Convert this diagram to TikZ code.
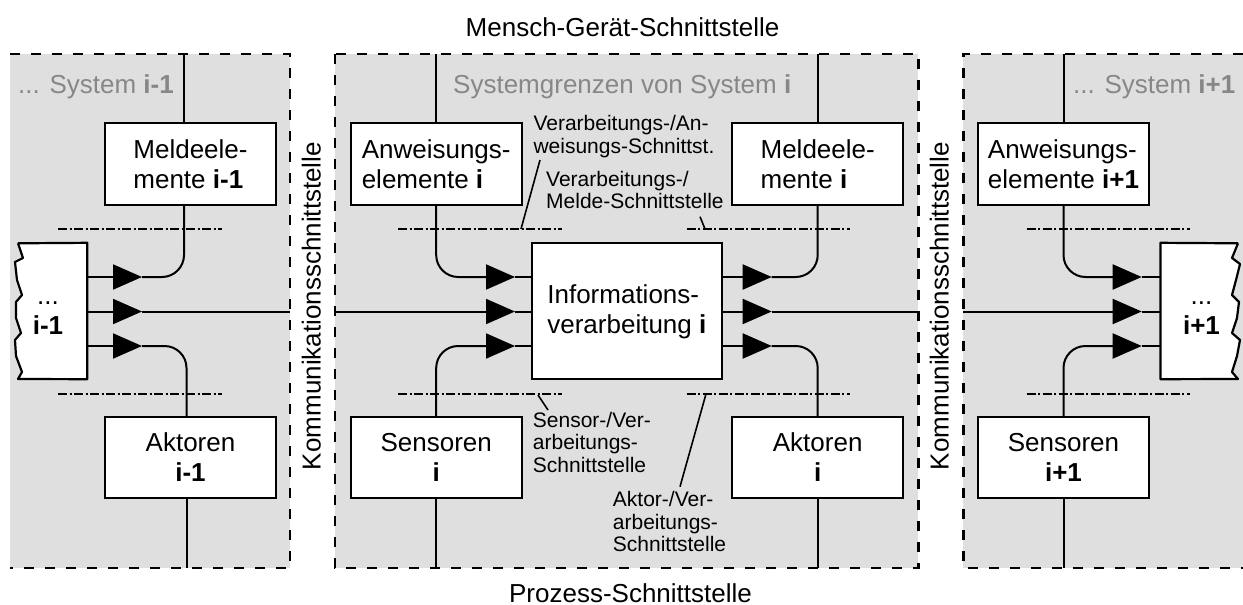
\documentclass[tikz,border=0pt]{standalone}
\usepackage{fontspec}
\setmainfont{Liberation Sans}
\usetikzlibrary{arrows.meta}
\definecolor{sysfill}{RGB}{223,223,223}
\definecolor{systext}{RGB}{135,135,135}
\begin{document}
\begin{tikzpicture}[x=1pt,y=-1pt,
  every node/.style={inner sep=0pt},
  big/.style={font=\fontsize{26}{30}\selectfont},
  blk/.style={big, draw, line width=2.2pt, fill=white, minimum width=171pt, minimum height=82pt},
  conn/.style={line width=2pt},
  curved/.style={conn, rounded corners=22pt},
  arrowtip/.style={conn, -{Triangle[length=29pt,width=25pt]}},
  border/.style={line width=2.4pt, dash pattern=on 10pt off 11pt},
  iface/.style={line width=1.6pt, dash pattern=on 9pt off 2.5pt on 2pt off 2.5pt},
  leader/.style={line width=1.6pt},
  lbl/.style={font=\fontsize{21}{22.5}\selectfont, align=left, anchor=north west},
  sysname/.style={big, text=systext, anchor=base west},
]
\useasboundingbox (0,0) rectangle (1243,605);
% system areas
\fill[sysfill] (10,54) rectangle (290,568);
\fill[sysfill] (335,54) rectangle (918.3,568);
\fill[sysfill] (963.3,54) rectangle (1243,568);
\draw[border] (10,54) -- (290,54) -- (290,568) -- (10,568);
\draw[border] (335,54) rectangle (918.3,568);
\draw[border] (1243,54) -- (963.3,54) -- (963.3,568) -- (1243,568);

% titles
\node[big, anchor=base] (mg) at (622.5,36) {Mensch-Gerät-Schnittstelle};
\node[big, anchor=base] (ps) at (630.5,602) {Prozess-Schnittstelle};
\node[big, rotate=90, anchor=base] (k1) at (320.5,306) {Kommunikationsschnittstelle};
\node[big, rotate=90, anchor=base] (k2) at (948.5,306) {Kommunikationsschnittstelle};
\node[sysname] (s1) at (18,93.3) {... System \textbf{i-1}};
\node[sysname] (s2) at (453,93.3) {Systemgrenzen von System \textbf{i}};
\node[sysname] (s3) at (1073,93.3) {... System \textbf{i+1}};

% interface lines
\draw[iface] (58,229) -- (222,229);
\draw[iface] (58,394) -- (222,394);
\draw[iface] (398,229) -- (561.7,229);
\draw[iface] (398,394) -- (561.7,394);
\draw[iface] (686.7,229) -- (850,229);
\draw[iface] (686.7,394) -- (850,394);
\draw[iface] (1026.7,229) -- (1190,229);
\draw[iface] (1026.7,394) -- (1190,394);

% boxes
\node[blk, align=left] (ML) at (190.5,164) {Meldeele-\\mente \textbf{i-1}};
\node[blk, align=center, minimum height=81pt] (AL) at (190.5,457.5) {Aktoren\\\textbf{i-1}};
\node[blk, align=left] (AI) at (436.2,164) {Anweisungs-\\elemente \textbf{i}};
\node[blk, align=center, minimum height=81pt] (SI) at (436.2,457.5) {Sensoren\\\textbf{i}};
\node[blk, align=left, minimum width=189.7pt, minimum height=136pt] (IV) at (626.85,311.3) {Informations-\\verarbeitung \textbf{i}};
\node[blk, align=left] (MI) at (817.7,164) {Meldeele-\\mente \textbf{i}};
\node[blk, align=center, minimum height=81pt] (AkI) at (817.7,457.5) {Aktoren\\\textbf{i}};
\node[blk, align=left] (AI1) at (1063.5,164) {Anweisungs-\\elemente \textbf{i+1}};
\node[blk, align=center, minimum height=81pt] (SI1) at (1063.5,457.5) {Sensoren\\\textbf{i+1}};

% partial boxes
\node[big, align=center, minimum width=78pt, minimum height=136pt] (PL) at (48,311) {};
\fill[white] (PL.north east) -- (PL.south east) -- (18,379) -- (22,372) -- (16,356) -- (15,340) -- (21,333) -- (16,318) -- (16,302) -- (22,295) -- (17,280) -- (15,262) -- (23,258) -- (18,243.3) -- cycle;
\draw[conn, line width=2.2pt, line join=round] (18,243.3) -- (PL.north east) -- (PL.south east) -- (18,379) -- (22,372) -- (16,356) -- (15,340) -- (21,333) -- (16,318) -- (16,302) -- (22,295) -- (17,280) -- (15,262) -- (23,258) -- (18,243.3);
\node[big, align=center] (PLt) at (PL) {\vphantom{I}...\\\textbf{i-1}};
\node[big, align=center, minimum width=81.6pt, minimum height=136pt] (PR) at (1201.5,311) {};
\fill[white] (PR.north west) -- (PR.south west) -- (1238,379) -- (1232,372) -- (1237,356) -- (1240,340) -- (1232,333) -- (1237,318) -- (1239,302) -- (1232,295) -- (1236,280) -- (1240,264) -- (1232,258) -- (1238,243.3) -- cycle;
\draw[conn, line width=2.2pt, line join=round] (1238,243.3) -- (PR.north west) -- (PR.south west) -- (1238,379) -- (1232,372) -- (1237,356) -- (1240,340) -- (1232,333) -- (1237,318) -- (1239,302) -- (1232,295) -- (1236,280) -- (1240,264) -- (1232,258) -- (1238,243.3);
\node[big, align=center] (PRt) at (PR) {\vphantom{I}...\\\textbf{i+1}};

% top and bottom lines
\coordinate (topML) at (184,54);
\coordinate (topAI) at (AI.north |- topML);
\coordinate (topMI) at (MI.north |- topML);
\coordinate (topAI1) at (AI1.north |- topML);
\draw[conn] (topML) -- (topML |- ML.north);
\draw[conn] (topAI) -- (AI.north);
\draw[conn] (topMI) -- (MI.north);
\draw[conn] (topAI1) -- (AI1.north);
\coordinate (botAL) at (186.5,568);
\coordinate (botSI) at (SI.south |- botAL);
\coordinate (botAkI) at (AkI.south |- botAL);
\coordinate (botSI1) at (SI1.south |- botAL);
\draw[conn] (botAL |- AL.south) -- (botAL);
\draw[conn] (SI.south) -- (botSI);
\draw[conn] (AkI.south) -- (botAkI);
\draw[conn] (SI1.south) -- (botSI1);

% left system connectors
\coordinate (tL1) at (142,277);
\coordinate (tL2) at (142,311.5);
\coordinate (tL3) at (142,346);
\coordinate (bL) at (290,311.5);
\draw[arrowtip] (PL.east |- tL1) -- (tL1);
\draw[curved] (tL1) -| (topML |- ML.south);
\draw[arrowtip] (PL.east |- tL2) -- (tL2);
\draw[conn] (tL2) -- (bL);
\draw[arrowtip] (PL.east |- tL3) -- (tL3);
\draw[curved] (tL3) -| (botAL |- AL.north);

% centre system connectors
\coordinate (tC1) at (515,277);
\coordinate (tC2) at (515,311.5);
\coordinate (tC3) at (515,346);
\coordinate (bC) at (335,311.5);
\draw[arrowtip, rounded corners=22pt] (AI.south) |- (tC1);
\draw[conn] (tC1) -- (IV.west |- tC1);
\draw[arrowtip] (bC) -- (tC2);
\draw[conn] (tC2) -- (IV.west |- tC2);
\draw[arrowtip, rounded corners=22pt] (SI.north) |- (tC3);
\draw[conn] (tC3) -- (IV.west |- tC3);

\coordinate (tD1) at (771.7,277);
\coordinate (tD2) at (771.7,311.5);
\coordinate (tD3) at (771.7,346);
\coordinate (bD) at (918.3,311.5);
\draw[arrowtip] (IV.east |- tD1) -- (tD1);
\draw[curved] (tD1) -| (MI.south);
\draw[arrowtip] (IV.east |- tD2) -- (tD2);
\draw[conn] (tD2) -- (bD);
\draw[arrowtip] (IV.east |- tD3) -- (tD3);
\draw[curved] (tD3) -| (AkI.north);

% right system connectors
\coordinate (tR1) at (1141.7,277);
\coordinate (tR2) at (1141.7,311.5);
\coordinate (tR3) at (1141.7,346);
\coordinate (bR) at (963.3,311.5);
\draw[arrowtip, rounded corners=22pt] (AI1.south) |- (tR1);
\draw[conn] (tR1) -- (PR.west |- tR1);
\draw[arrowtip] (bR) -- (tR2);
\draw[conn] (tR2) -- (PR.west |- tR2);
\draw[arrowtip, rounded corners=22pt] (SI1.north) |- (tR3);
\draw[conn] (tR3) -- (PR.west |- tR3);

% interface labels
\node[lbl] (T1) at (533.3,115.5) {Verarbeitungs-/An-\\weisungs-Schnittst.};
\node[lbl] (T2) at (546,170.7) {Verarbeitungs-/\\Melde-Schnittstelle};
\node[lbl] (T3) at (532.7,412) {Sensor-/Ver-\\arbeitungs-\\Schnittstelle};
\node[lbl] (T4) at (612.7,491.4) {Aktor-/Ver-\\arbeitungs-\\Schnittstelle};
\coordinate (e1) at (521,229);
\coordinate (e2) at (705,229);
\coordinate (e3) at (538,395);
\coordinate (e4) at (705.7,395);
\draw[leader] (540,160) -- (e1);
\draw[leader] (700,216.7) -- (e2);
\draw[leader] (548,410) -- (e3);
\draw[leader] (680,486.7) -- (e4);
\end{tikzpicture}
\end{document}
